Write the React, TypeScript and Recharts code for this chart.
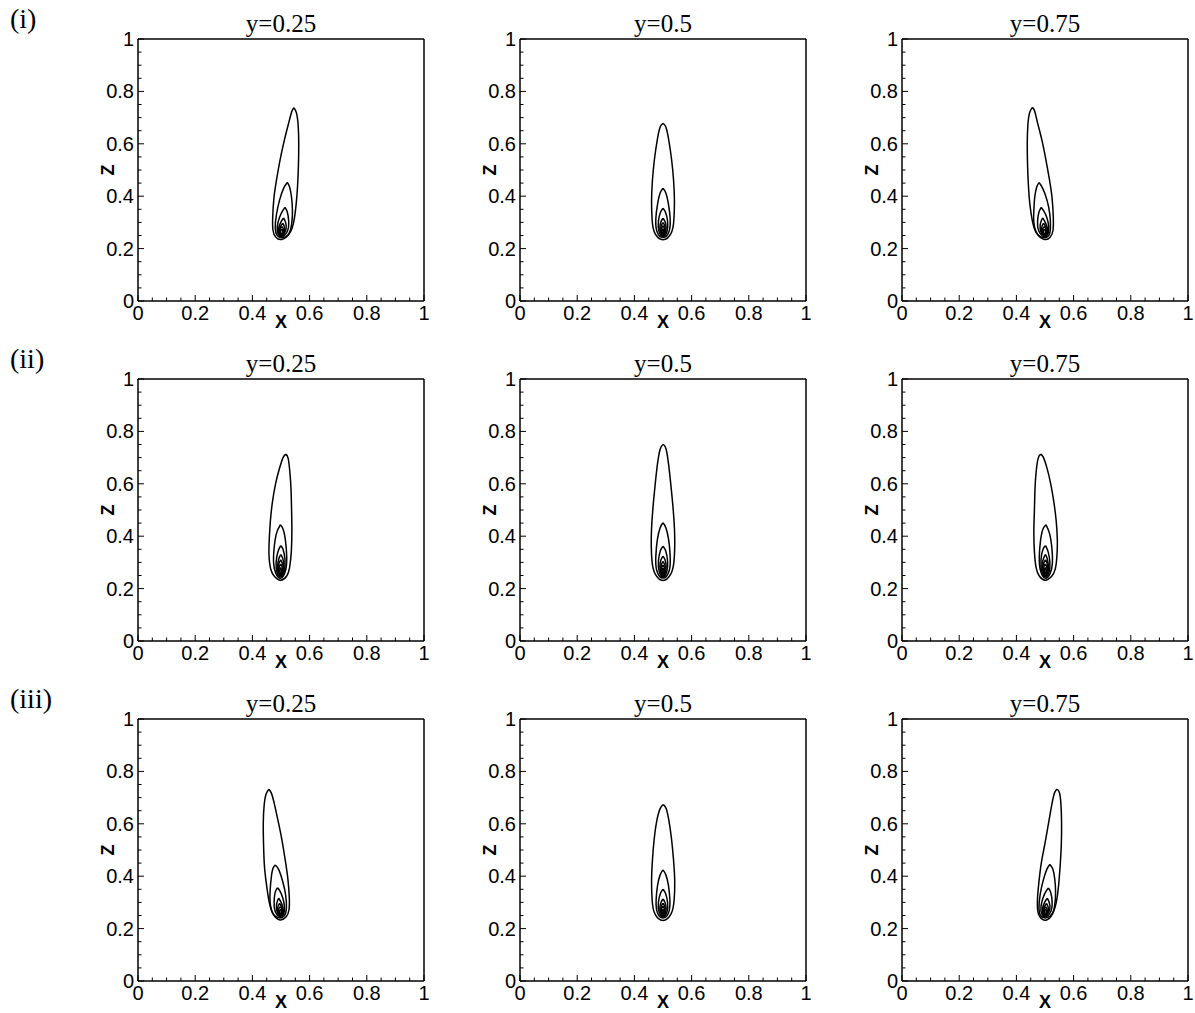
import { Line, LineChart, XAxis, YAxis } from "recharts";

type Pt = [number, number];

const ROW_LABELS = ["(i)", "(ii)", "(iii)"];
const COL_TITLES = ["y=0.25", "y=0.5", "y=0.75"];
const TICKS = [
  0, 0.05, 0.1, 0.15, 0.2, 0.25, 0.3, 0.35, 0.4, 0.45, 0.5, 0.55, 0.6, 0.65, 0.7, 0.75, 0.8, 0.85, 0.9,
  0.95, 1,
];

// contour lines (x, z), outermost first
const I_025: Pt[][] = [
  [[0.545, 0.738], [0.554, 0.718], [0.56, 0.67], [0.562, 0.6], [0.561, 0.52], [0.558, 0.44], [0.553, 0.37], [0.545, 0.305], [0.53, 0.258], [0.503, 0.235], [0.482, 0.243], [0.472, 0.27], [0.471, 0.32], [0.475, 0.39], [0.484, 0.46], [0.497, 0.54], [0.512, 0.615], [0.527, 0.68], [0.538, 0.724], [0.545, 0.738]],
  [[0.522, 0.452], [0.53, 0.435], [0.537, 0.395], [0.54, 0.345], [0.538, 0.3], [0.528, 0.258], [0.506, 0.242], [0.487, 0.25], [0.48, 0.28], [0.484, 0.33], [0.495, 0.385], [0.509, 0.43], [0.522, 0.452]],
  [[0.514, 0.357], [0.522, 0.34], [0.527, 0.305], [0.523, 0.268], [0.505, 0.246], [0.49, 0.256], [0.487, 0.285], [0.495, 0.32], [0.506, 0.345], [0.514, 0.357]],
  [[0.509, 0.317], [0.516, 0.3], [0.518, 0.278], [0.511, 0.256], [0.501, 0.249], [0.492, 0.258], [0.492, 0.28], [0.5, 0.302], [0.509, 0.317]],
  [[0.506, 0.297], [0.512, 0.283], [0.511, 0.264], [0.502, 0.252], [0.494, 0.262], [0.496, 0.28], [0.506, 0.297]],
  [[0.504, 0.284], [0.509, 0.272], [0.507, 0.259], [0.501, 0.254], [0.496, 0.263], [0.498, 0.276], [0.504, 0.284]],
  [[0.503, 0.274], [0.506, 0.266], [0.502, 0.257], [0.498, 0.264], [0.503, 0.274]],
];

const I_050: Pt[][] = [
  [[0.5, 0.678], [0.51, 0.664], [0.52, 0.615], [0.53, 0.54], [0.537, 0.46], [0.54, 0.38], [0.538, 0.31], [0.529, 0.26], [0.5, 0.234], [0.471, 0.26], [0.462, 0.31], [0.46, 0.38], [0.463, 0.46], [0.47, 0.54], [0.48, 0.615], [0.49, 0.664], [0.5, 0.678]],
  [[0.5, 0.43], [0.51, 0.412], [0.519, 0.37], [0.525, 0.315], [0.521, 0.265], [0.5, 0.242], [0.479, 0.265], [0.475, 0.315], [0.481, 0.37], [0.49, 0.412], [0.5, 0.43]],
  [[0.5, 0.354], [0.509, 0.338], [0.516, 0.305], [0.514, 0.266], [0.5, 0.246], [0.486, 0.266], [0.484, 0.305], [0.491, 0.338], [0.5, 0.354]],
  [[0.5, 0.316], [0.507, 0.303], [0.511, 0.28], [0.507, 0.259], [0.5, 0.249], [0.493, 0.259], [0.489, 0.28], [0.493, 0.303], [0.5, 0.316]],
  [[0.5, 0.299], [0.506, 0.287], [0.507, 0.268], [0.5, 0.252], [0.493, 0.268], [0.494, 0.287], [0.5, 0.299]],
  [[0.5, 0.287], [0.505, 0.277], [0.504, 0.262], [0.5, 0.255], [0.496, 0.262], [0.495, 0.277], [0.5, 0.287]],
  [[0.5, 0.276], [0.503, 0.268], [0.5, 0.258], [0.497, 0.268], [0.5, 0.276]],
];

const I_075: Pt[][] = [
  [[0.456, 0.739], [0.464, 0.724], [0.474, 0.68], [0.489, 0.615], [0.503, 0.54], [0.516, 0.46], [0.525, 0.39], [0.529, 0.32], [0.528, 0.27], [0.518, 0.243], [0.498, 0.235], [0.471, 0.258], [0.456, 0.305], [0.447, 0.37], [0.442, 0.44], [0.439, 0.52], [0.438, 0.6], [0.44, 0.67], [0.446, 0.718], [0.456, 0.739]],
  [[0.479, 0.452], [0.492, 0.43], [0.507, 0.385], [0.517, 0.33], [0.519, 0.28], [0.513, 0.25], [0.495, 0.242], [0.472, 0.258], [0.461, 0.3], [0.461, 0.345], [0.464, 0.395], [0.471, 0.435], [0.479, 0.452]],
  [[0.487, 0.357], [0.495, 0.345], [0.506, 0.32], [0.513, 0.285], [0.51, 0.256], [0.496, 0.246], [0.478, 0.268], [0.474, 0.305], [0.479, 0.34], [0.487, 0.357]],
  [[0.492, 0.317], [0.5, 0.302], [0.508, 0.28], [0.508, 0.258], [0.499, 0.249], [0.489, 0.256], [0.483, 0.278], [0.485, 0.3], [0.492, 0.317]],
  [[0.495, 0.297], [0.504, 0.28], [0.506, 0.262], [0.498, 0.252], [0.489, 0.264], [0.489, 0.283], [0.495, 0.297]],
  [[0.497, 0.284], [0.502, 0.276], [0.504, 0.263], [0.499, 0.254], [0.493, 0.259], [0.491, 0.272], [0.497, 0.284]],
  [[0.498, 0.274], [0.502, 0.264], [0.498, 0.257], [0.494, 0.266], [0.498, 0.274]],
];

const II_025: Pt[][] = [
  [[0.517, 0.713], [0.525, 0.697], [0.531, 0.645], [0.535, 0.58], [0.537, 0.5], [0.538, 0.42], [0.536, 0.34], [0.53, 0.28], [0.52, 0.248], [0.499, 0.232], [0.478, 0.245], [0.464, 0.275], [0.458, 0.33], [0.459, 0.39], [0.463, 0.46], [0.47, 0.53], [0.481, 0.6], [0.495, 0.66], [0.508, 0.702], [0.517, 0.713]],
  [[0.498, 0.444], [0.508, 0.425], [0.516, 0.38], [0.52, 0.32], [0.516, 0.27], [0.5, 0.24], [0.482, 0.258], [0.474, 0.3], [0.476, 0.355], [0.484, 0.41], [0.498, 0.444]],
  [[0.499, 0.364], [0.507, 0.35], [0.514, 0.31], [0.511, 0.265], [0.499, 0.245], [0.486, 0.262], [0.483, 0.3], [0.489, 0.34], [0.499, 0.364]],
  [[0.499, 0.33], [0.506, 0.316], [0.51, 0.288], [0.505, 0.258], [0.498, 0.248], [0.49, 0.26], [0.488, 0.285], [0.492, 0.313], [0.499, 0.33]],
  [[0.499, 0.31], [0.505, 0.296], [0.507, 0.273], [0.499, 0.251], [0.491, 0.268], [0.492, 0.294], [0.499, 0.31]],
  [[0.499, 0.294], [0.504, 0.283], [0.504, 0.265], [0.499, 0.253], [0.494, 0.265], [0.494, 0.283], [0.499, 0.294]],
  [[0.499, 0.28], [0.502, 0.27], [0.499, 0.257], [0.496, 0.27], [0.499, 0.28]],
];

const II_050: Pt[][] = [
  [[0.501, 0.751], [0.511, 0.732], [0.52, 0.67], [0.528, 0.59], [0.535, 0.51], [0.54, 0.43], [0.541, 0.36], [0.538, 0.3], [0.527, 0.255], [0.5, 0.231], [0.473, 0.255], [0.462, 0.3], [0.459, 0.36], [0.46, 0.43], [0.465, 0.51], [0.472, 0.59], [0.48, 0.67], [0.49, 0.732], [0.501, 0.751]],
  [[0.5, 0.451], [0.51, 0.432], [0.52, 0.385], [0.525, 0.325], [0.522, 0.27], [0.5, 0.24], [0.478, 0.27], [0.475, 0.325], [0.48, 0.385], [0.49, 0.432], [0.5, 0.451]],
  [[0.5, 0.362], [0.509, 0.345], [0.516, 0.305], [0.513, 0.264], [0.5, 0.245], [0.487, 0.264], [0.484, 0.305], [0.491, 0.345], [0.5, 0.362]],
  [[0.5, 0.324], [0.507, 0.31], [0.511, 0.284], [0.507, 0.258], [0.5, 0.248], [0.493, 0.258], [0.489, 0.284], [0.493, 0.31], [0.5, 0.324]],
  [[0.5, 0.304], [0.506, 0.291], [0.507, 0.27], [0.5, 0.251], [0.493, 0.27], [0.494, 0.291], [0.5, 0.304]],
  [[0.5, 0.29], [0.505, 0.279], [0.504, 0.263], [0.5, 0.254], [0.496, 0.263], [0.495, 0.279], [0.5, 0.29]],
  [[0.5, 0.278], [0.503, 0.269], [0.5, 0.257], [0.497, 0.269], [0.5, 0.278]],
];

const II_075: Pt[][] = [
  [[0.485, 0.713], [0.494, 0.702], [0.507, 0.66], [0.52, 0.6], [0.531, 0.53], [0.539, 0.46], [0.543, 0.39], [0.542, 0.33], [0.536, 0.275], [0.522, 0.245], [0.5, 0.232], [0.48, 0.248], [0.469, 0.28], [0.463, 0.34], [0.461, 0.42], [0.463, 0.5], [0.465, 0.58], [0.469, 0.645], [0.476, 0.697], [0.485, 0.713]],
  [[0.503, 0.444], [0.516, 0.41], [0.524, 0.355], [0.526, 0.3], [0.518, 0.258], [0.5, 0.24], [0.484, 0.27], [0.48, 0.32], [0.484, 0.38], [0.492, 0.425], [0.503, 0.444]],
  [[0.502, 0.364], [0.511, 0.34], [0.517, 0.3], [0.514, 0.262], [0.501, 0.245], [0.489, 0.265], [0.486, 0.31], [0.493, 0.35], [0.502, 0.364]],
  [[0.502, 0.33], [0.508, 0.313], [0.512, 0.285], [0.51, 0.26], [0.502, 0.248], [0.495, 0.258], [0.49, 0.288], [0.495, 0.316], [0.502, 0.33]],
  [[0.502, 0.31], [0.508, 0.294], [0.508, 0.268], [0.501, 0.251], [0.493, 0.273], [0.495, 0.296], [0.502, 0.31]],
  [[0.501, 0.294], [0.506, 0.283], [0.506, 0.265], [0.501, 0.253], [0.496, 0.265], [0.496, 0.283], [0.501, 0.294]],
  [[0.501, 0.28], [0.504, 0.27], [0.501, 0.257], [0.498, 0.27], [0.501, 0.28]],
];

const III_025: Pt[][] = [
  [[0.458, 0.732], [0.466, 0.718], [0.476, 0.68], [0.49, 0.61], [0.503, 0.54], [0.515, 0.46], [0.524, 0.39], [0.529, 0.32], [0.528, 0.272], [0.518, 0.245], [0.497, 0.233], [0.474, 0.252], [0.459, 0.3], [0.449, 0.37], [0.442, 0.44], [0.439, 0.52], [0.438, 0.6], [0.441, 0.67], [0.448, 0.714], [0.458, 0.732]],
  [[0.48, 0.443], [0.492, 0.425], [0.506, 0.38], [0.516, 0.33], [0.519, 0.28], [0.512, 0.25], [0.494, 0.241], [0.472, 0.258], [0.462, 0.3], [0.462, 0.345], [0.466, 0.395], [0.472, 0.43], [0.48, 0.443]],
  [[0.488, 0.356], [0.496, 0.344], [0.506, 0.318], [0.512, 0.285], [0.509, 0.256], [0.495, 0.246], [0.479, 0.268], [0.476, 0.305], [0.48, 0.34], [0.488, 0.356]],
  [[0.492, 0.316], [0.5, 0.301], [0.507, 0.279], [0.507, 0.258], [0.498, 0.249], [0.489, 0.257], [0.484, 0.278], [0.486, 0.3], [0.492, 0.316]],
  [[0.495, 0.296], [0.503, 0.28], [0.505, 0.262], [0.497, 0.252], [0.489, 0.264], [0.489, 0.283], [0.495, 0.296]],
  [[0.497, 0.283], [0.502, 0.275], [0.503, 0.262], [0.498, 0.254], [0.493, 0.259], [0.491, 0.272], [0.497, 0.283]],
  [[0.498, 0.273], [0.501, 0.264], [0.498, 0.257], [0.494, 0.266], [0.498, 0.273]],
];

const III_050: Pt[][] = [
  [[0.501, 0.673], [0.511, 0.658], [0.521, 0.61], [0.53, 0.54], [0.537, 0.46], [0.541, 0.38], [0.539, 0.31], [0.529, 0.258], [0.5, 0.231], [0.471, 0.258], [0.462, 0.31], [0.46, 0.38], [0.463, 0.46], [0.469, 0.54], [0.478, 0.61], [0.49, 0.658], [0.501, 0.673]],
  [[0.5, 0.424], [0.51, 0.405], [0.519, 0.365], [0.524, 0.31], [0.52, 0.262], [0.5, 0.24], [0.48, 0.262], [0.476, 0.31], [0.481, 0.365], [0.49, 0.405], [0.5, 0.424]],
  [[0.5, 0.35], [0.509, 0.334], [0.516, 0.3], [0.514, 0.264], [0.5, 0.245], [0.486, 0.264], [0.484, 0.3], [0.491, 0.334], [0.5, 0.35]],
  [[0.5, 0.313], [0.507, 0.3], [0.511, 0.278], [0.507, 0.258], [0.5, 0.248], [0.493, 0.258], [0.489, 0.278], [0.493, 0.3], [0.5, 0.313]],
  [[0.5, 0.297], [0.506, 0.285], [0.507, 0.267], [0.5, 0.251], [0.493, 0.267], [0.494, 0.285], [0.5, 0.297]],
  [[0.5, 0.285], [0.505, 0.275], [0.504, 0.261], [0.5, 0.254], [0.496, 0.261], [0.495, 0.275], [0.5, 0.285]],
  [[0.5, 0.274], [0.503, 0.267], [0.5, 0.257], [0.497, 0.267], [0.5, 0.274]],
];

const III_075: Pt[][] = [
  [[0.543, 0.732], [0.551, 0.717], [0.556, 0.67], [0.558, 0.6], [0.557, 0.52], [0.553, 0.44], [0.548, 0.37], [0.541, 0.31], [0.527, 0.258], [0.503, 0.232], [0.482, 0.245], [0.474, 0.272], [0.474, 0.32], [0.479, 0.38], [0.487, 0.45], [0.499, 0.52], [0.512, 0.6], [0.525, 0.68], [0.534, 0.72], [0.543, 0.732]],
  [[0.517, 0.445], [0.527, 0.428], [0.534, 0.39], [0.537, 0.34], [0.534, 0.29], [0.524, 0.255], [0.504, 0.241], [0.485, 0.25], [0.479, 0.28], [0.483, 0.33], [0.494, 0.385], [0.507, 0.428], [0.517, 0.445]],
  [[0.512, 0.355], [0.52, 0.338], [0.525, 0.303], [0.521, 0.267], [0.504, 0.246], [0.489, 0.256], [0.486, 0.285], [0.494, 0.32], [0.504, 0.343], [0.512, 0.355]],
  [[0.508, 0.316], [0.515, 0.299], [0.517, 0.277], [0.51, 0.256], [0.501, 0.249], [0.492, 0.258], [0.492, 0.28], [0.499, 0.301], [0.508, 0.316]],
  [[0.505, 0.296], [0.511, 0.282], [0.51, 0.263], [0.502, 0.252], [0.494, 0.262], [0.496, 0.28], [0.505, 0.296]],
  [[0.503, 0.283], [0.508, 0.271], [0.506, 0.258], [0.501, 0.254], [0.496, 0.263], [0.498, 0.275], [0.503, 0.283]],
  [[0.502, 0.273], [0.505, 0.265], [0.502, 0.257], [0.498, 0.264], [0.502, 0.273]],
];

const PANELS: Pt[][][][] = [
  [I_025, I_050, I_075],
  [II_025, II_050, II_075],
  [III_025, III_050, III_075],
];

const PLOT_LEFT = [138, 520, 902];
const PLOT_TOP = [39, 379, 719];
const PLOT_W = 286;
const PLOT_H = 262;
const Y_AXIS_W = 60;
const TOP_PAD = 38;
const X_AXIS_H = 40;
const RIGHT_PAD = 12;

const SANS = "'Liberation Sans', Arial, Helvetica, sans-serif";
const SERIF = "'Liberation Serif', 'Times New Roman', serif";
const AXIS_LINE = { stroke: "#000", strokeWidth: 1.5 };

const isMajor = (v: number) => Math.abs(v * 5 - Math.round(v * 5)) < 1e-6;
const fmt = (v: number) => String(Number(v.toFixed(1)));
const tickLen = (v: number) => (isMajor(v) ? 6 : 3.5);

function BottomTick({ x, y, payload }: any) {
  const v = payload.value;
  return (
    <g>
      <line x1={x} x2={x} y1={y} y2={y - tickLen(v)} stroke="#000" />
      {isMajor(v) && (
        <text x={x} y={y + 19} textAnchor="middle" fontSize={20} fontFamily={SANS} fill="#000">
          {fmt(v)}
        </text>
      )}
    </g>
  );
}

function TopTick({ x, y, payload }: any) {
  return <line x1={x} x2={x} y1={y} y2={y + tickLen(payload.value)} stroke="#000" />;
}

function LeftTick({ x, y, payload }: any) {
  const v = payload.value;
  return (
    <g>
      <line x1={x} x2={x + tickLen(v)} y1={y} y2={y} stroke="#000" />
      {isMajor(v) && (
        <text x={x - 4} y={y + 7} textAnchor="end" fontSize={20} fontFamily={SANS} fill="#000">
          {fmt(v)}
        </text>
      )}
    </g>
  );
}

function RightTick({ x, y, payload }: any) {
  return <line x1={x} x2={x - tickLen(payload.value)} y1={y} y2={y} stroke="#000" />;
}

function Panel({ contours, title, left, top }: { contours: Pt[][]; title: string; left: number; top: number }) {
  const series = contours.map((c) => c.map(([x, z]) => ({ x, z })));
  return (
    <div style={{ position: "absolute", left: left - Y_AXIS_W, top: top - TOP_PAD }}>
      <LineChart
        width={Y_AXIS_W + PLOT_W + RIGHT_PAD}
        height={TOP_PAD + PLOT_H + X_AXIS_H}
        margin={{ top: TOP_PAD - 1, right: RIGHT_PAD - 1, bottom: 0, left: 0 }}
      >
        <XAxis
          type="number"
          dataKey="x"
          domain={[0, 1]}
          ticks={TICKS}
          interval={0}
          height={X_AXIS_H}
          tickSize={0}
          tickMargin={0}
          tickLine={false}
          axisLine={AXIS_LINE}
          tick={(p: any) => <BottomTick {...p} />}
          label={{ value: "X", position: "insideBottom", offset: 13, fill: "#000", fontSize: 18, fontWeight: "bold", fontFamily: SANS }}
        />
        <XAxis
          xAxisId="top"
          orientation="top"
          type="number"
          dataKey="x"
          domain={[0, 1]}
          ticks={TICKS}
          interval={0}
          height={1}
          tickSize={0}
          tickMargin={0}
          tickLine={false}
          axisLine={AXIS_LINE}
          tick={(p: any) => <TopTick {...p} />}
          label={{ value: title, position: "top", offset: 6, fill: "#000", fontSize: 25, fontFamily: SERIF }}
        />
        <YAxis
          type="number"
          domain={[0, 1]}
          ticks={TICKS}
          interval={0}
          width={Y_AXIS_W}
          tickSize={0}
          tickMargin={0}
          tickLine={false}
          axisLine={AXIS_LINE}
          tick={(p: any) => <LeftTick {...p} />}
          label={{ value: "Z", angle: -90, position: "center", fill: "#000", fontSize: 18, fontWeight: "bold", fontFamily: SANS }}
        />
        <YAxis
          yAxisId="right"
          orientation="right"
          type="number"
          domain={[0, 1]}
          ticks={TICKS}
          interval={0}
          width={1}
          tickSize={0}
          tickMargin={0}
          tickLine={false}
          axisLine={AXIS_LINE}
          tick={(p: any) => <RightTick {...p} />}
        />
        {series.map((s, i) => (
          <Line
            key={i}
            data={s}
            dataKey="z"
            type="natural"
            stroke="#000"
            strokeWidth={1.5}
            dot={false}
            activeDot={false}
            isAnimationActive={false}
          />
        ))}
      </LineChart>
    </div>
  );
}

export default function App() {
  return (
    <div style={{ position: "absolute", left: 0, top: 0, width: 1195, height: 1013, background: "#fff" }}>
      {ROW_LABELS.map((lbl, r) => (
        <div
          key={lbl}
          style={{
            position: "absolute",
            left: 10,
            top: PLOT_TOP[r] - 34,
            fontFamily: SERIF,
            fontSize: 28,
            lineHeight: "28px",
            color: "#000",
          }}
        >
          {lbl}
        </div>
      ))}
      {PANELS.map((row, r) =>
        row.map((contours, c) => (
          <Panel key={`${r}-${c}`} contours={contours} title={COL_TITLES[c]} left={PLOT_LEFT[c]} top={PLOT_TOP[r]} />
        )),
      )}
    </div>
  );
}
